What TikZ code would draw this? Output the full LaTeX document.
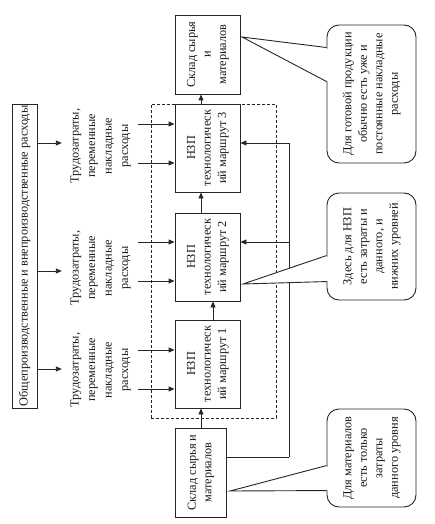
\documentclass[tikz,border=0pt]{standalone}
\usepackage{fontspec}
\setmainfont{Liberation Serif}
\usetikzlibrary{arrows.meta,calc}
\newcommand{\rt}[1]{\rotatebox{90}{\begin{tabular}{@{}c@{}}#1\end{tabular}}}
\begin{document}
\begin{tikzpicture}[x=1pt,y=-1pt,
  every node/.style={font=\fontsize{12.3}{15.5}\selectfont, text=black!90},
  wide/.style={font=\fontsize{12.3}{16.5}\selectfont},
  ln/.style={draw=black!85, line width=0.9pt},
  box/.style={ln, inner sep=0pt},
  lab/.style={wide, inner xsep=5pt, inner ysep=0pt},
  call/.style={ln, rounded corners=12pt, fill=white, inner sep=0pt},
  arr/.style={ln, -{Triangle[length=6pt,width=5pt]}},
  grpbox/.style={draw=black!85, line width=0.9pt, dash pattern=on 3pt off 2pt, inner sep=0pt}]
\useasboundingbox (0,0) rectangle (434,524);

% group (dashed)
\node[grpbox, minimum width=125, minimum height=314] (grp) at (213.5,261) {};

% left box
\node[box, minimum width=25, minimum height=304] (gen) at (24.5,256)
  {\rt{Общепроизводственные и внепроизводственные расходы}};

% labels
\node[lab] (l1) at (100,146) {\rt{Трудозатраты,\\переменные\\накладные\\расходы}};
\node[lab] (l2) at (100,268) {\rt{Трудозатраты,\\переменные\\накладные\\расходы}};
\node[lab] (l3) at (100,370) {\rt{Трудозатраты,\\переменные\\накладные\\расходы}};

\draw[arr] (gen.east |- 0,143) -- (l1.west |- 0,143);
\draw[arr] (gen.east |- 0,271) -- (l2.west |- 0,271);
\draw[arr] (gen.east |- 0,369) -- (l3.west |- 0,369);

% main boxes
\node[box, fill=white, minimum width=65, minimum height=79] (skT) at (207.5,54.5)
  {\rt{Склад сырья\\и\\материалов}};
\node[box, fill=white, minimum width=65, minimum height=88] (n3) at (207.5,148)
  {\rt{НЗП\\технологическ\\ий маршрут 3}};
\node[box, fill=white, minimum width=65, minimum height=88] (n2) at (207.5,257)
  {\rt{НЗП\\технологическ\\ий маршрут 2}};
\node[box, fill=white, minimum width=65, minimum height=88] (n1) at (207.5,364)
  {\rt{НЗП\\технологическ\\ий маршрут 1}};
\node[box, fill=white, minimum width=51, minimum height=89] (skB) at (200.5,472.5)
  {\rt{Склад сырья и\\материалов}};

% flow arrows
\draw[arr] (skB.north -| 201,0) -- (n1.south -| 201,0);
\draw[arr] (n1.north -| 213,0) -- (n2.south -| 213,0);
\draw[arr] (n2.north -| 201,0) -- (n3.south -| 201,0);
\draw[arr] (n3.north -| 201,0) -- (skT.south -| 201,0);

% inputs
\coordinate (i3a) at (138,124);
\coordinate (i3b) at (138,163);
\coordinate (i2a) at (138,242);
\coordinate (i2b) at (138,281);
\coordinate (i1a) at (138,350);
\coordinate (i1b) at (138,389);
\draw[arr] (i3a) -- (n3.west |- i3a);
\draw[arr] (i3b) -- (n3.west |- i3b);
\draw[arr] (i2a) -- (n2.west |- i2a);
\draw[arr] (i2b) -- (n2.west |- i2b);
\draw[arr] (i1a) -- (n1.west |- i1a);
\draw[arr] (i1b) -- (n1.west |- i1b);

% feedback
\coordinate (fb) at (289,457);
\draw[ln] (skB.east |- fb) -- (fb);
\draw[arr] (fb) |- (n3.east |- 0,143);
\draw[arr] (fb |- 0,242) -- (n2.east |- 0,242);

% callouts
\node[call, minimum width=89, minimum height=138] (c1) at (371.5,94)
  {\rt{Для готовой продукции\\обычно есть уже и\\постоянные накладные\\расходы}};
\node[call, minimum width=89, minimum height=107] (c2) at (371.5,246.5)
  {\rt{Здесь для НЗП\\есть затраты и\\данного, и\\нижних уровней}};
\node[call, minimum width=89, minimum height=98] (c3) at (371.5,458)
  {\rt{Для материалов\\есть только\\затраты\\данного уровня}};

\coordinate (t1) at (242,37);
\coordinate (t2) at (243,284);
\coordinate (t3) at (230,491);

\foreach \c/\t/\a/\b in {c1/t1/23/57, c2/t2/63/89, c3/t3/57/82}{
  \fill[white] ($(\c.north west)+(0,\a)$) -- (\t) -- ($(\c.north west)+(0,\b)$) -- cycle;
  \draw[white, line width=2pt] ($(\c.north west)+(0,\a+1)$) -- ($(\c.north west)+(0,\b-1)$);
  \draw[ln] ($(\c.north west)+(0,\a)$) -- (\t) -- ($(\c.north west)+(0,\b)$);
}
\end{tikzpicture}
\end{document}
